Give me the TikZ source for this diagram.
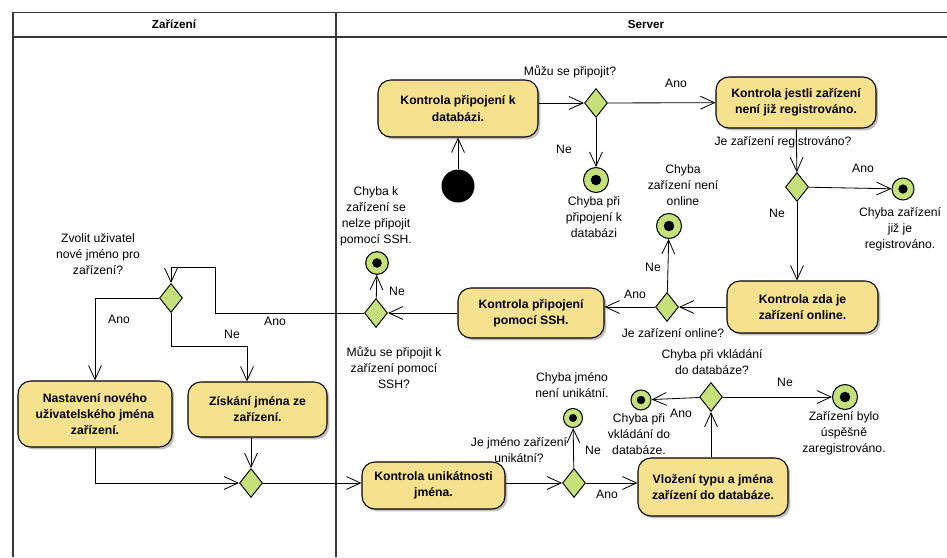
\documentclass[tikz,border=0pt]{standalone}
\usepackage{fontspec}
\setmainfont{Liberation Sans}
\usepackage{tikz}
\usetikzlibrary{shapes.geometric, arrows.meta, calc, shadows, positioning}
\definecolor{actyellow}{RGB}{246,225,142}
\definecolor{actgreen}{RGB}{197,225,122}
\definecolor{lanegray}{RGB}{55,55,55}
\tikzset{
  activity/.style={rectangle, rounded corners=11pt, draw=black, line width=0.9pt, fill=actyellow, align=center, font=\fontsize{10.4}{13.7}\selectfont\bfseries, drop shadow={shadow xshift=2pt, shadow yshift=-2pt, fill=black, opacity=0.25}},
  decision/.style={diamond, draw=black, line width=0.8pt, fill=actgreen, minimum width=0.69cm, minimum height=0.87cm, inner sep=0pt},
  endnode/.style={circle, draw=black, line width=0.9pt, fill=actgreen, inner sep=0pt, minimum size=#1, path picture={\fill[black] (path picture bounding box.center) circle[radius=0.21*#1];}},
  endnode/.default=0.75cm,
  startnode/.style={circle, fill=black, inner sep=0pt, minimum size=0.99cm},
  lbl/.style={align=center, inner sep=0pt, font=\fontsize{10.4}{13.7}\selectfont},
  lane/.style={line width=1.6pt, draw=lanegray},
  arrow/.style={line width=0.7pt, -{Straight Barb[length=12pt, width=11pt]}}
}

\begin{document}
\begin{tikzpicture}[x=0.03cm, y=-0.03cm]
  \useasboundingbox (0,0) rectangle (947,557);

  % 1. Plavecke drahy
  \draw[lane] (13,557) -- (13,12.5) -- (947,12.5);
  \draw[lane] (13,37) -- (947,37);
  \draw[lane] (336,12.5) -- (336,557);
  \node[lbl, font=\fontsize{10}{12}\selectfont\bfseries] (hdevice) at (174,24) {Zařízení};
  \node[lbl, font=\fontsize{10}{12}\selectfont\bfseries] (hserver) at (646,24) {Server};

  % 2. Aktivity
  \node[activity, minimum width=4.8cm, minimum height=1.71cm] (dbconn) at (458,108.5) {Kontrola připojení k\\databázi.};
  \node[activity, minimum width=4.8cm, minimum height=1.53cm] (regcheck) at (796,102.5) {Kontrola jestli zařízení\\není již registrováno.};
  \node[activity, minimum width=4.53cm, minimum height=1.56cm] (onlinecheck) at (802.5,307) {Kontrola zda je\\zařízení online.};
  \node[activity, minimum width=4.38cm, minimum height=1.5cm] (sshcheck) at (531,313) {Kontrola připojení\\pomocí SSH.};
  \node[activity, minimum width=4.62cm, minimum height=1.98cm] (setname) at (95,414) {Nastavení nového\\uživatelského jména\\zařízení.};
  \node[activity, minimum width=4.17cm, minimum height=1.65cm] (getname) at (257.5,409.5) {Získání jména ze\\zařízení.};
  \node[activity, minimum width=4.29cm, minimum height=1.41cm] (uniqcheck) at (433.5,485.5) {Kontrola unikátnosti\\jména.};
  \node[activity, minimum width=4.5cm, minimum height=1.74cm] (dbinsert) at (713,487) {Vložení typu a jména\\zařízení do databáze.};

  % 3. Rozhodovani
  \node[decision] (d1) at (596,103) {};
  \node[decision] (d2) at (797,187) {};
  \node[decision] (d3) at (667,307) {};
  \node[decision] (d4) at (376,313) {};
  \node[decision] (d5) at (171,298) {};
  \node[decision] (d6) at (251,483) {};
  \node[decision] (d7) at (574,483) {};
  \node[decision] (d8) at (711,397) {};

  % 4. Pocatecni a koncove uzly
  \node[startnode] (start) at (458,186) {};
  \node[endnode] (e1) at (596,180) {};
  \node[endnode=0.66cm] (e2) at (903,189) {};
  \node[endnode] (e3) at (669,226) {};
  \node[endnode=0.68cm] (e4) at (377,263) {};
  \node[endnode=0.57cm] (e5) at (573,418) {};
  \node[endnode=0.6cm] (e6) at (641,400) {};
  \node[endnode] (e7) at (845,397) {};

  % 5. Popisky
  \node[lbl] (qconn) at (570,72) {Můžu se připojit?};
  \node[lbl] (txe1) at (594,217) {Chyba při\\připojení k\\databázi};
  \node[lbl] (qreg) at (783,142) {Je zařízení registrováno?};
  \node[lbl] (txe2) at (900,229) {Chyba zařízení\\již je\\registrováno.};
  \node[lbl] (txe3) at (683,185) {Chyba\\zařízení není\\online};
  \node[lbl] (qonline) at (673,333) {Je zařízení online?};
  \node[lbl] (txe4) at (376,216) {Chyba k\\zařízení se\\nelze připojit\\pomocí SSH.};
  \node[lbl] (qssh) at (394,368) {Můžu se připojit k\\zařízení pomocí\\SSH?};
  \node[lbl] (qname) at (98,254) {Zvolit uživatel\\nové jméno pro\\zařízení?};
  \node[lbl] (quniq) at (519,450) {Je jméno zařízení\\unikátní?};
  \node[lbl] (txe5) at (572,385) {Chyba jméno\\není unikátní.};
  \node[lbl] (qinsert) at (712,362) {Chyba při vkládání\\do databáze?};
  \node[lbl] (txe6) at (639,434) {Chyba při\\vkládání do\\databáze.};
  \node[lbl] (txe7) at (844,433) {Zařízení bylo\\úspěšně\\zaregistrováno.};

  % popisky prechodu
  \node[lbl] (ne1) at (564,149) {Ne};
  \node[lbl] (ano1) at (676,83) {Ano};
  \node[lbl] (ano2) at (863,168) {Ano};
  \node[lbl] (ne2) at (777,213) {Ne};
  \node[lbl] (ne3) at (653,267) {Ne};
  \node[lbl] (ano3) at (635,294) {Ano};
  \node[lbl] (ne4) at (397,291) {Ne};
  \node[lbl] (ano4) at (275,321) {Ano};
  \node[lbl] (ano5) at (119,319) {Ano};
  \node[lbl] (ne5) at (232,334) {Ne};
  \node[lbl] (ne7) at (593,450) {Ne};
  \node[lbl] (ano7) at (607,494) {Ano};
  \node[lbl] (ano8) at (681,413) {Ano};
  \node[lbl] (ne8) at (785,382) {Ne};

  % 6. Prechody
  \draw[arrow] (start) -- (dbconn);
  \draw[arrow] (dbconn.east |- d1) -- (d1);
  \draw[arrow] (d1) -- (e1);
  \draw[arrow] (d1) -- (regcheck);
  \draw[arrow] (regcheck) -- (d2);
  \draw[arrow] (d2) -- (e2);
  \draw[arrow] (d2) -- (d2 |- onlinecheck.north);
  \draw[arrow] (onlinecheck) -- (d3);
  \draw[arrow] (d3) -- (e3);
  \draw[arrow] (d3) -- (d3 -| sshcheck.east);
  \draw[arrow] (sshcheck) -- (d4);
  \draw[arrow] (d4) -- (e4);
  \coordinate (loop) at (215,267);
  \draw[arrow] (d4) -| (loop) -| (d5);
  \draw[arrow] (d5) -| (setname);
  \coordinate (nebend) at (247,346);
  \draw[arrow] (d5) |- (nebend) -- (nebend |- getname.north);
  \draw[arrow] (setname) |- (d6);
  \draw[arrow] (getname.south -| d6) -- (d6);
  \draw[arrow] (d6) -- (d6 -| uniqcheck.west);
  \draw[arrow] (uniqcheck.east |- d7) -- (d7);
  \draw[arrow] (d7) -- (e5);
  \draw[arrow] (d7) -- (d7 -| dbinsert.west);
  \draw[arrow] (d8 |- dbinsert.north) -- (d8);
  \draw[arrow] (d8) -- (e6);
  \draw[arrow] (d8) -- (e7);

\end{tikzpicture}
\end{document}
